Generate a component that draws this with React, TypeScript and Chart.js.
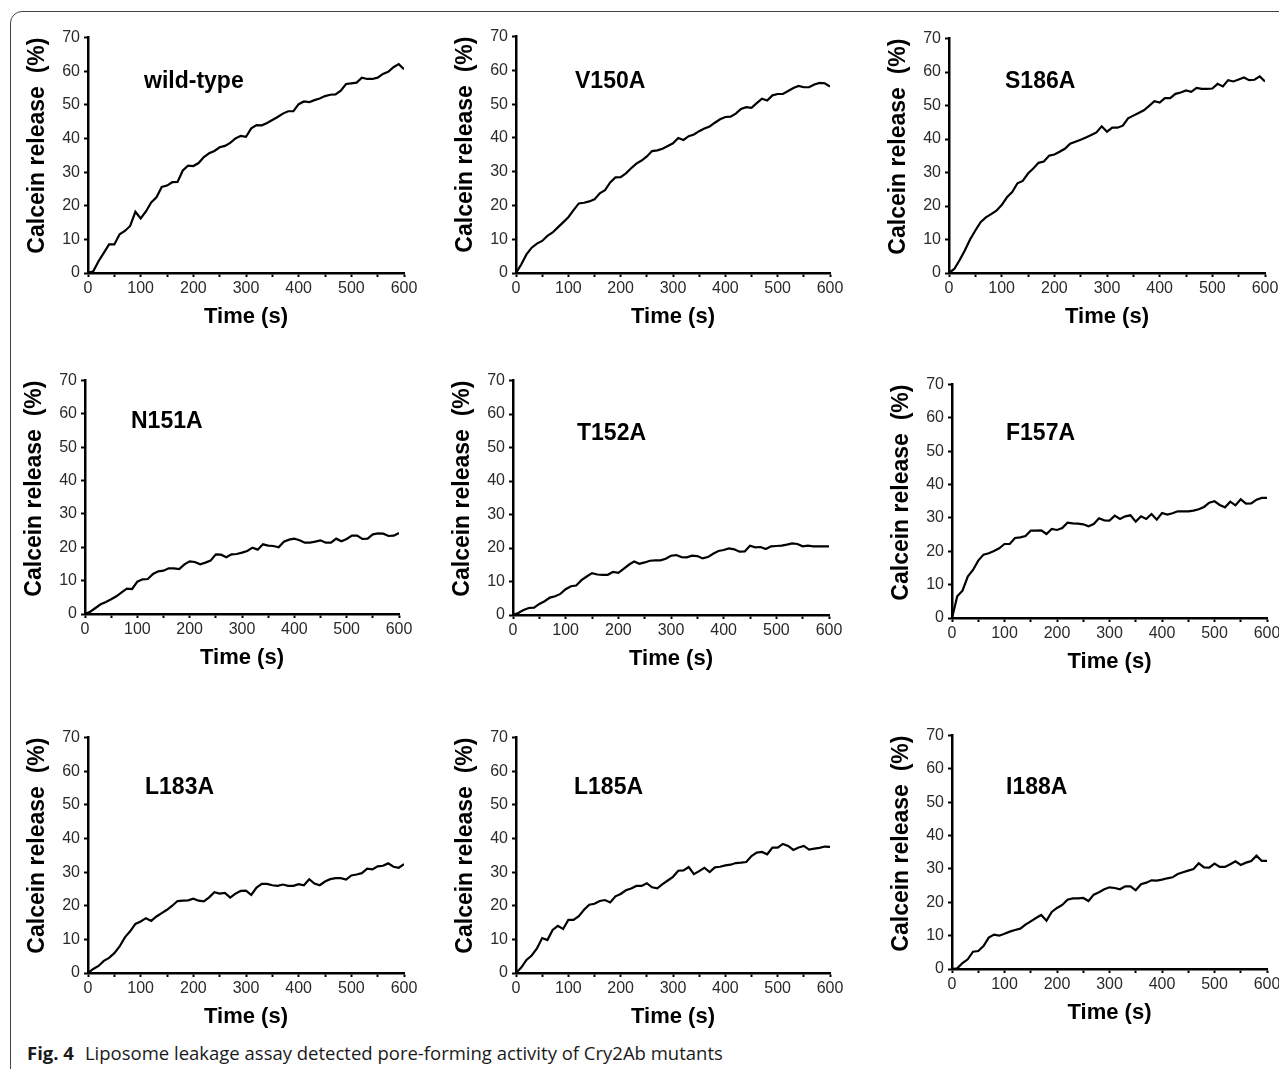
import React, { useEffect, useRef } from 'react';
import { Chart, registerables } from 'chart.js';

Chart.register(...registerables);

const FONT = "'Liberation Sans', Arial, Helvetica, sans-serif";

// ---------- data ----------
const TIME_S = [
  0, 10, 20, 30, 40, 50, 60, 70, 80, 90,
  100, 110, 120, 130, 140, 150, 160, 170, 180, 190,
  200, 210, 220, 230, 240, 250, 260, 270, 280, 290,
  300, 310, 320, 330, 340, 350, 360, 370, 380, 390,
  400, 410, 420, 430, 440, 450, 460, 470, 480, 490,
  500, 510, 520, 530, 540, 550, 560, 570, 580, 590,
  600,
];

const WILD_TYPE = [
  0, 0.5, 3.5, 6, 8.5, 8.5, 11.5, 12.5, 14, 18.2,
  16.2, 18.3, 21, 22.5, 25.6, 26, 27, 27.1, 30.5, 31.9,
  31.8, 32.7, 34.5, 35.6, 36.3, 37.4, 37.8, 38.7, 40, 40.8,
  40.5, 43, 44, 43.9, 44.6, 45.5, 46.4, 47.4, 48.1, 48.1,
  50.2, 51, 50.8, 51.4, 51.9, 52.6, 53, 53.1, 54.2, 56.2,
  56.4, 56.6, 58.1, 57.7, 57.7, 58.1, 59.2, 59.8, 61.2, 62.1,
  60.6,
];

const V150A = [
  0, 2.5, 5.5, 7.5, 8.7, 9.5, 11, 12, 13.5, 15,
  16.5, 18.6, 20.6, 20.8, 21.2, 21.8, 23.6, 24.5, 26.8, 28.3,
  28.4, 29.5, 31, 32.4, 33.3, 34.5, 36.1, 36.3, 36.8, 37.6,
  38.4, 40, 39.4, 40.5, 41, 42, 42.8, 43.4, 44.5, 45.5,
  46.2, 46.3, 47.2, 48.6, 49.1, 48.9, 50.3, 51.6, 51.1, 52.6,
  53, 53, 53.9, 54.8, 55.4, 55, 55, 55.8, 56.3, 56.2,
  55.2,
];

const S186A = [
  0, 1.2, 3.8, 6.7, 10, 12.7, 15.2, 16.6, 17.6, 18.6,
  20.3, 22.6, 24.2, 26.8, 27.5, 29.7, 31.2, 32.9, 33.3, 35,
  35.4, 36.2, 37.1, 38.6, 39.2, 39.8, 40.5, 41.2, 42, 43.8,
  42.2, 43.4, 43.4, 44, 46.2, 47, 47.8, 48.6, 49.9, 51.3,
  50.9, 52.2, 52.2, 53.5, 53.9, 54.5, 54.1, 55.3, 55, 55,
  55.1, 56.5, 55.7, 57.6, 57.2, 57.8, 58.4, 57.6, 57.7, 58.7,
  57.2,
];

const N151A = [
  0, 0.7, 1.8, 2.9, 3.6, 4.4, 5.3, 6.5, 7.6, 7.5,
  9.7, 10.4, 10.5, 12, 12.8, 13, 13.7, 13.7, 13.5, 14.9,
  15.8, 15.6, 14.9, 15.4, 16, 17.9, 17.8, 17, 17.9, 18,
  18.4, 18.9, 19.9, 19.3, 20.9, 20.5, 20.4, 20, 21.7, 22.3,
  22.6, 22.1, 21.4, 21.4, 21.7, 22.1, 21.4, 21.4, 22.6, 21.8,
  22.5, 23.5, 23.5, 22.5, 22.6, 23.9, 24.2, 24.1, 23.4, 23.5,
  24.3,
];

const T152A = [
  0, 0.6, 1.5, 2.1, 2.2, 3.3, 4.1, 5.2, 5.6, 6.3,
  7.7, 8.6, 8.8, 10.4, 11.5, 12.5, 12.1, 12, 12, 12.9,
  12.6, 13.8, 15, 16, 15.3, 15.7, 16.2, 16.3, 16.3, 16.8,
  17.7, 17.9, 17.3, 17.2, 17.7, 17.6, 16.9, 17.3, 18.3, 19.1,
  19.4, 19.9, 19.6, 18.9, 19, 20.7, 20.2, 20.3, 19.7, 20.5,
  20.6, 20.7, 21, 21.4, 21.2, 20.5, 20.7, 20.5, 20.5, 20.5,
  20.5,
];

const F157A = [
  0, 6.5, 8.2, 12.4, 14.4, 17.2, 19, 19.4, 20.1, 20.9,
  22.2, 22.2, 24, 24.2, 24.6, 26.2, 26.2, 26.3, 25.2, 26.7,
  26.4, 27, 28.6, 28.4, 28.3, 28.1, 27.5, 28.2, 29.9, 29.3,
  29.2, 30.7, 29.7, 30.5, 30.8, 28.9, 30.5, 29.7, 31.2, 29.5,
  31.5, 31, 31.4, 32, 32, 32, 32.2, 32.6, 33.3, 34.6,
  35, 33.9, 33.2, 34.9, 33.8, 35.6, 34.3, 34.4, 35.5, 36,
  36,
];

const L183A = [
  0, 1.2, 2.1, 3.6, 4.5, 5.9, 7.9, 10.6, 12.4, 14.6,
  15.3, 16.3, 15.5, 16.8, 17.8, 18.8, 20, 21.4, 21.5, 21.6,
  22.1, 21.5, 21.3, 22.5, 24, 23.6, 23.8, 22.4, 23.6, 24.4,
  24.5, 23.2, 25.4, 26.5, 26.5, 26.1, 25.9, 26.3, 25.9, 25.9,
  26.4, 26.1, 27.9, 26.6, 26.1, 27.2, 27.9, 28.2, 28.2, 27.8,
  29, 29.3, 29.7, 31, 30.8, 31.7, 31.9, 32.6, 31.6, 31.3,
  32.4,
];

const L185A = [
  0, 1.6, 3.9, 5.2, 7.3, 10.4, 9.8, 12.8, 14, 13.1,
  15.8, 15.8, 16.9, 18.8, 20.3, 20.6, 21.4, 21.7, 21, 22.8,
  23.5, 24.6, 25.1, 25.9, 25.9, 26.7, 25.5, 25.2, 26.4, 27.5,
  28.6, 30.4, 30.5, 31.5, 29.4, 30.3, 31.3, 30, 31.4, 31.6,
  32, 32.2, 32.7, 32.8, 33, 34.8, 35.8, 36, 35.3, 37.3,
  37.3, 38.4, 37.8, 36.6, 37.3, 37.8, 36.7, 37, 37.2, 37.6,
  37.5,
];

const I188A = [
  0, 0.2, 1.8, 2.9, 5.2, 5.4, 6.9, 9.4, 10.3, 10,
  10.6, 11.2, 11.7, 12.1, 13.3, 14.3, 15.3, 16.2, 14.5, 17.1,
  18.3, 19.2, 20.8, 21.2, 21.2, 21.3, 20.4, 22.3, 23, 23.9,
  24.5, 24.3, 23.9, 24.8, 24.8, 23.6, 25.4, 25.9, 26.6, 26.5,
  26.8, 27.2, 27.5, 28.5, 29, 29.5, 30, 31.7, 30.5, 30.4,
  31.6, 30.6, 30.6, 31.4, 32.3, 31.2, 31.9, 32.4, 34, 32.4,
  32.4,
];

const X_TICK_MARKS = [0, 50, 100, 150, 200, 250, 300, 350, 400, 450, 500, 550, 600];
const X_TICK_LABELS = [0, 100, 200, 300, 400, 500, 600];
const Y_TICKS = [0, 10, 20, 30, 40, 50, 60, 70];
const X_TITLE = 'Time (s)';
const Y_TITLE = 'Calcein release  (%)';
const PANEL_NAMES = ['wild-type', 'V150A', 'S186A', 'N151A', 'T152A', 'F157A', 'L183A', 'L185A', 'I188A'];
const PANEL_SERIES = [WILD_TYPE, V150A, S186A, N151A, T152A, F157A, L183A, L185A, I188A];
const CAPTION_BOLD = 'Fig. 4';
const CAPTION_TEXT = 'Liposome leakage assay detected pore-forming activity of Cry2Ab mutants';

// ---------- layout (page pixels) ----------
const PLOT_BOXES = [
  { l: 88, t: 36, r: 404, b: 273 },
  { l: 516, t: 35, r: 830, b: 273 },
  { l: 949, t: 37, r: 1265, b: 273 },
  { l: 85, t: 379, r: 399, b: 614 },
  { l: 513, t: 379, r: 829, b: 615 },
  { l: 952, t: 383, r: 1267, b: 618 },
  { l: 88, t: 736, r: 404, b: 973 },
  { l: 516, t: 736, r: 830, b: 973 },
  { l: 952, t: 734, r: 1267, b: 969 },
];
const LABEL_POS = [
  { x: 144, y: 80 },
  { x: 575, y: 80 },
  { x: 1005, y: 80 },
  { x: 131, y: 420 },
  { x: 577, y: 432 },
  { x: 1006, y: 432 },
  { x: 145, y: 786 },
  { x: 574, y: 786 },
  { x: 1006, y: 786 },
];

const M_LEFT = 90;
const M_RIGHT = 20;
const M_TOP = 12;
const M_BOTTOM = 60;

function Panel({ index }: { index: number }) {
  const ref = useRef<HTMLCanvasElement | null>(null);
  const box = PLOT_BOXES[index];
  const w = M_LEFT + (box.r - box.l) + M_RIGHT;
  const h = M_TOP + (box.b - box.t) + M_BOTTOM;

  useEffect(() => {
    const values = PANEL_SERIES[index];
    const chart = new Chart(ref.current as HTMLCanvasElement, {
      type: 'line',
      data: {
        datasets: [
          {
            data: TIME_S.map((t, i) => ({ x: t, y: values[i] })),
            borderColor: '#000',
            borderWidth: 2.2,
            pointRadius: 0,
            tension: 0,
            fill: false,
          },
        ],
      },
      options: {
        responsive: false,
        maintainAspectRatio: false,
        animation: false,
        layout: { padding: { left: 0, right: M_RIGHT, top: M_TOP, bottom: 0 } },
        plugins: { legend: { display: false }, tooltip: { enabled: false } },
        scales: {
          x: {
            type: 'linear',
            min: 0,
            max: 600,
            afterBuildTicks: (s: any) => {
              s.ticks = X_TICK_MARKS.map((v) => ({ value: v }));
            },
            afterFit: (s: any) => {
              s.height = M_BOTTOM;
            },
            ticks: {
              autoSkip: false,
              maxRotation: 0,
              padding: 2,
              color: '#2a2a2a',
              font: { family: FONT, size: 16 },
              callback: (v: any) => (X_TICK_LABELS.includes(Number(v)) ? String(v) : ''),
            },
            grid: { drawOnChartArea: false, drawTicks: true, tickLength: 4, tickWidth: 2, tickColor: '#000' },
            border: { display: true, color: '#000', width: 2.5 },
            title: {
              display: true,
              text: X_TITLE,
              color: '#000',
              font: { family: FONT, size: 22, weight: 'bold' },
              padding: { top: 0, bottom: 3 },
            },
          },
          y: {
            type: 'linear',
            min: 0,
            max: 70,
            afterBuildTicks: (s: any) => {
              s.ticks = Y_TICKS.map((v) => ({ value: v }));
            },
            afterFit: (s: any) => {
              s.width = M_LEFT;
            },
            ticks: {
              autoSkip: false,
              padding: 4,
              color: '#2a2a2a',
              font: { family: FONT, size: 16 },
            },
            grid: { drawOnChartArea: false, drawTicks: true, tickLength: 4, tickWidth: 2, tickColor: '#000' },
            border: { display: true, color: '#000', width: 2.5 },
            title: {
              display: true,
              text: Y_TITLE,
              align: 'end',
              color: '#000',
              font: { family: FONT, size: 23, weight: 'bold' },
              padding: { top: 26, bottom: 0 },
            },
          },
        },
      },
    } as any);
    return () => chart.destroy();
  }, [index]);

  const lp = LABEL_POS[index];
  return (
    <>
      <canvas
        ref={ref}
        width={w}
        height={h}
        style={{ position: 'absolute', left: box.l - M_LEFT, top: box.t - M_TOP, width: w, height: h }}
      />
      <div
        style={{
          position: 'absolute',
          left: lp.x,
          top: lp.y - 10.7,
          font: `bold 23px ${FONT}`,
          lineHeight: '23px',
          color: '#000',
          whiteSpace: 'nowrap',
        }}
      >
        {PANEL_NAMES[index]}
      </div>
    </>
  );
}

export default function App() {
  return (
    <div
      style={{
        position: 'absolute',
        left: 0,
        top: 0,
        width: 1279,
        height: 1069,
        overflow: 'hidden',
        background: '#fff',
      }}
    >
      <div
        style={{
          position: 'absolute',
          left: 10,
          top: 11,
          width: 1300,
          height: 1070,
          border: '1px solid #444',
          borderRadius: 12,
        }}
      />
      {PANEL_NAMES.map((_, i) => (
        <Panel key={i} index={i} />
      ))}
      <div
        style={{
          position: 'absolute',
          left: 27,
          top: 1041,
          font: `18.5px 'Open Sans', sans-serif`,
          lineHeight: '24px',
          color: '#1a1a1a',
          whiteSpace: 'nowrap',
        }}
      >
        <span style={{ fontWeight: 700 }}>{CAPTION_BOLD}</span>
        <span style={{ marginLeft: 11 }}>{CAPTION_TEXT}</span>
      </div>
    </div>
  );
}
